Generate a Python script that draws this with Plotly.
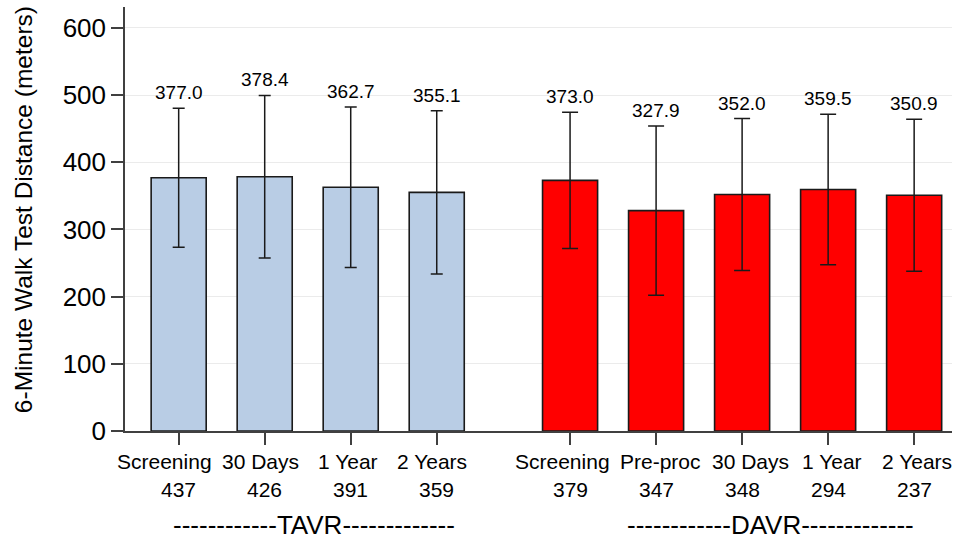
import plotly.graph_objects as go

# ---- data ----
tavr_labels = ["Screening", "30 Days", "1 Year", "2 Years"]
tavr_n = [437, 426, 391, 359]
tavr_mean = [377.0, 378.4, 362.7, 355.1]
tavr_sd = [103.4, 121.0, 119.5, 121.5]

davr_labels = ["Screening", "Pre-proc", "30 Days", "1 Year", "2 Years"]
davr_n = [379, 347, 348, 294, 237]
davr_mean = [373.0, 327.9, 352.0, 359.5, 350.9]
davr_sd = [101.5, 126.0, 113.0, 112.0, 113.0]

group_names = ["TAVR", "DAVR"]
y_ticks = [0, 100, 200, 300, 400, 500, 600]
y_title = "6-Minute Walk Test Distance (meters)"

# ---- layout helpers (style/position, not data) ----
gap_offset = 4.55
tavr_x = [i for i in range(len(tavr_labels))]
davr_x = [gap_offset + i for i in range(len(davr_labels))]
group_label_x = [1.57, 6.88]
name_label_shift = [-14, -4, -3, -5, -8, 4, 8, 4, 3]   # px nudges to avoid overlap

FONT = "Arial, 'Liberation Sans', sans-serif"

fig = go.Figure()

fig.add_trace(go.Bar(
    x=tavr_x, y=tavr_mean, width=0.64,
    marker=dict(color="#B9CDE5", line=dict(color="#1a1a1a", width=1.6)),
    error_y=dict(type="data", array=tavr_sd, visible=True, color="#1a1a1a",
                 thickness=1.5, width=6),
    showlegend=False, hoverinfo="skip",
))
fig.add_trace(go.Bar(
    x=davr_x, y=davr_mean, width=0.64,
    marker=dict(color="#FF0000", line=dict(color="#1a1a1a", width=1.6)),
    error_y=dict(type="data", array=davr_sd, visible=True, color="#1a1a1a",
                 thickness=1.5, width=8),
    showlegend=False, hoverinfo="skip",
))

annotations = []
for xs, ms, ss in [(tavr_x, tavr_mean, tavr_sd), (davr_x, davr_mean, davr_sd)]:
    for x, m, s in zip(xs, ms, ss):
        annotations.append(dict(
            x=x, y=m + s, xref="x", yref="y", text=f"{m:.1f}",
            showarrow=False, yanchor="bottom", yshift=3,
            font=dict(family=FONT, size=19, color="black"),
        ))

# category names and n counts under the axis
all_x = tavr_x + davr_x
all_names = tavr_labels + davr_labels
all_n = tavr_n + davr_n
for x, name, n, sh in zip(all_x, all_names, all_n, name_label_shift):
    annotations.append(dict(
        x=x, y=-0.0731, xref="x", yref="paper", text=name, xshift=sh,
        showarrow=False, yanchor="middle", xanchor="center",
        font=dict(family=FONT, size=21, color="black"),
    ))
    annotations.append(dict(
        x=x, y=-0.139, xref="x", yref="paper", text=str(n),
        showarrow=False, yanchor="middle", xanchor="center",
        font=dict(family=FONT, size=21, color="black"),
    ))

dash_l = "-" * 12
dash_r = "-" * 13
for gx, gname in zip(group_label_x, group_names):
    annotations.append(dict(
        x=gx, y=-0.222, xref="x", yref="paper",
        text=dash_l + gname + dash_r, showarrow=False, yanchor="middle",
        font=dict(family=FONT, size=26, color="black"),
    ))

annotations.append(dict(
    x=-0.1233, y=0.521, xref="paper", yref="paper", text=y_title,
    textangle=-90, showarrow=False, xanchor="center", yanchor="middle",
    font=dict(family=FONT, size=24.5, color="black"),
))

fig.update_layout(
    width=957, height=540,
    margin=dict(l=125, r=5, t=7, b=109),
    paper_bgcolor="white", plot_bgcolor="white",
    font=dict(family=FONT, color="black"),
    annotations=annotations,
    xaxis=dict(
        range=[-0.624, 8.99], tickvals=all_x, showticklabels=False,
        automargin=False, showgrid=False, zeroline=False,
        showline=True, linecolor="#404040", linewidth=1.5,
        ticks="outside", ticklen=12, tickwidth=1.5, tickcolor="#404040",
    ),
    yaxis=dict(
        range=[0, 631], tickvals=y_ticks, automargin=False,
        showgrid=True, gridcolor="#EBEBEB", gridwidth=1.2, zeroline=False,
        showline=True, linecolor="#404040", linewidth=1.5,
        ticks="outside", ticklen=12, tickwidth=1.5, tickcolor="#404040",
        tickfont=dict(family=FONT, size=26, color="black"),
    ),
)

fig.write_html("out.html", config={"displayModeBar": False},
               post_script="document.body.style.margin='0';")
